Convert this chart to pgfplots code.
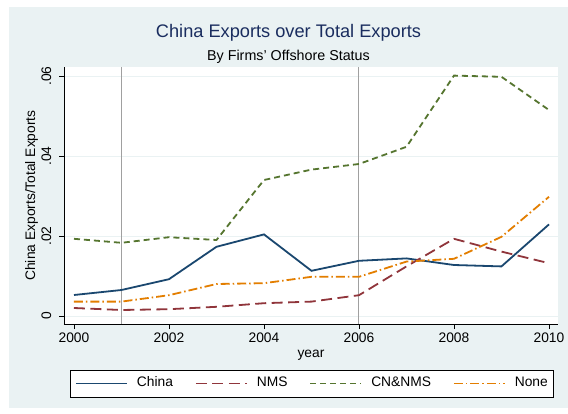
\documentclass[border=0pt]{standalone}
\usepackage{fontspec}
\setmainfont{Liberation Sans}
\usepackage{pgfplots}
\pgfplotsset{compat=1.18}
\definecolor{BgBlue}{RGB}{234,242,243}
\definecolor{TitleNavy}{RGB}{26,45,95}
\definecolor{SNavy}{RGB}{26,71,111}
\definecolor{SMaroon}{RGB}{144,53,59}
\definecolor{SGreen}{RGB}{85,117,47}
\definecolor{SOrange}{RGB}{227,126,0}
\definecolor{XLine}{RGB}{160,160,160}

\newcommand{\lblfont}{\fontsize{13.8}{16}\selectfont}

\begin{document}
\begin{tikzpicture}
\path[use as bounding box] (0,0) rectangle (568pt,413pt);
\fill[white] (0,0) rectangle (568pt,413pt);
\fill[BgBlue] (9pt,5pt) rectangle (568pt,406pt);
% legend box
\filldraw[fill=white, draw=black, line width=0.8pt] (70pt,16pt) rectangle (553pt,43pt);

\node[anchor=base, text=TitleNavy, font=\fontsize{18.2}{22}\selectfont] at (288.5pt,375pt) {China Exports over Total Exports};
\node[anchor=base, font=\fontsize{14.3}{17}\selectfont] at (288.5pt,352pt) {By Firms' Offshore Status};

\begin{axis}[
    at={(64pt,89pt)}, anchor=south west,
    width=494pt, height=257pt, scale only axis,
    xmin=1999.79, xmax=2010.19,
    ymin=-0.002, ymax=0.06225,
    axis lines*=left,
    axis line style={black, line width=0.8pt},
    axis background/.style={fill=white},
    tick align=outside,
    major tick length=5pt,
    tick style={black, line width=0.8pt},
    xtick={2000,2002,2004,2006,2008,2010},
    xticklabels={2000,2002,2004,2006,2008,2010},
    ytick={0,0.02,0.04,0.06},
    yticklabels={0,.02,.04,.06},
    scaled y ticks=false,
    minor tick num=0,
    ymajorgrids,
    grid style={BgBlue, line width=1pt},
    tick label style={font=\lblfont},
    yticklabel style={xshift=-8pt, rotate=90, anchor=base},
    label style={font=\lblfont},
    xlabel={year},
    xlabel style={at={(axis description cs:0.5,-0.1284)}, anchor=base},
    ylabel={China Exports/Total Exports},
    ylabel style={at={(axis description cs:-0.0587,0.5)}, anchor=base, rotate=0},
    legend columns=4,
    legend style={
        at={(0.501,-0.2315)}, anchor=center,
        draw=none, fill=none,
        font=\lblfont,
        inner xsep=6pt, inner ysep=5pt,
        nodes={inner sep=0pt, text height=10pt, text depth=3pt},
        /tikz/every odd column/.append style={column sep=9pt},
        /tikz/every even column/.append style={column sep=22pt},
    },
    legend image code/.code={\draw[#1] (0pt,0pt) -- (51pt,0pt);},
    legend image post style={line width=1.8pt},
    every axis plot/.append style={line width=1.8pt},
]
\addplot[draw=XLine, line width=1pt, forget plot] coordinates {(2001,-0.002) (2001,0.06225)};
\addplot[draw=XLine, line width=1pt, forget plot] coordinates {(2006,-0.002) (2006,0.06225)};

\addplot[draw=SNavy, solid] coordinates {
(2000,0.00525) (2001,0.0065) (2002,0.0092) (2003,0.0173) (2004,0.0204) (2005,0.0113)
(2006,0.0138) (2007,0.0144) (2008,0.01275) (2009,0.0124) (2010,0.0229)};
\addlegendentry{China}
\addplot[draw=SMaroon, dash pattern=on 11pt off 5.5pt] coordinates {
(2000,0.0020) (2001,0.0015) (2002,0.0017) (2003,0.0023) (2004,0.0032) (2005,0.0036)
(2006,0.0052) (2007,0.0124) (2008,0.0193) (2009,0.0161) (2010,0.0132)};
\addlegendentry{NMS}
\addplot[draw=SGreen, dash pattern=on 6pt off 4pt] coordinates {
(2000,0.0193) (2001,0.0183) (2002,0.0197) (2003,0.0190) (2004,0.0340) (2005,0.0366)
(2006,0.0380) (2007,0.0423) (2008,0.0601) (2009,0.0598) (2010,0.0515)};
\addlegendentry{CN\&NMS}
\addplot[draw=SOrange, dash pattern=on 9pt off 3pt on 1.5pt off 3pt] coordinates {
(2000,0.0036) (2001,0.0036) (2002,0.0052) (2003,0.0080) (2004,0.0082) (2005,0.0098)
(2006,0.0098) (2007,0.0136) (2008,0.0143) (2009,0.0198) (2010,0.0298)};
\addlegendentry{None}
\end{axis}
\end{tikzpicture}
\end{document}
